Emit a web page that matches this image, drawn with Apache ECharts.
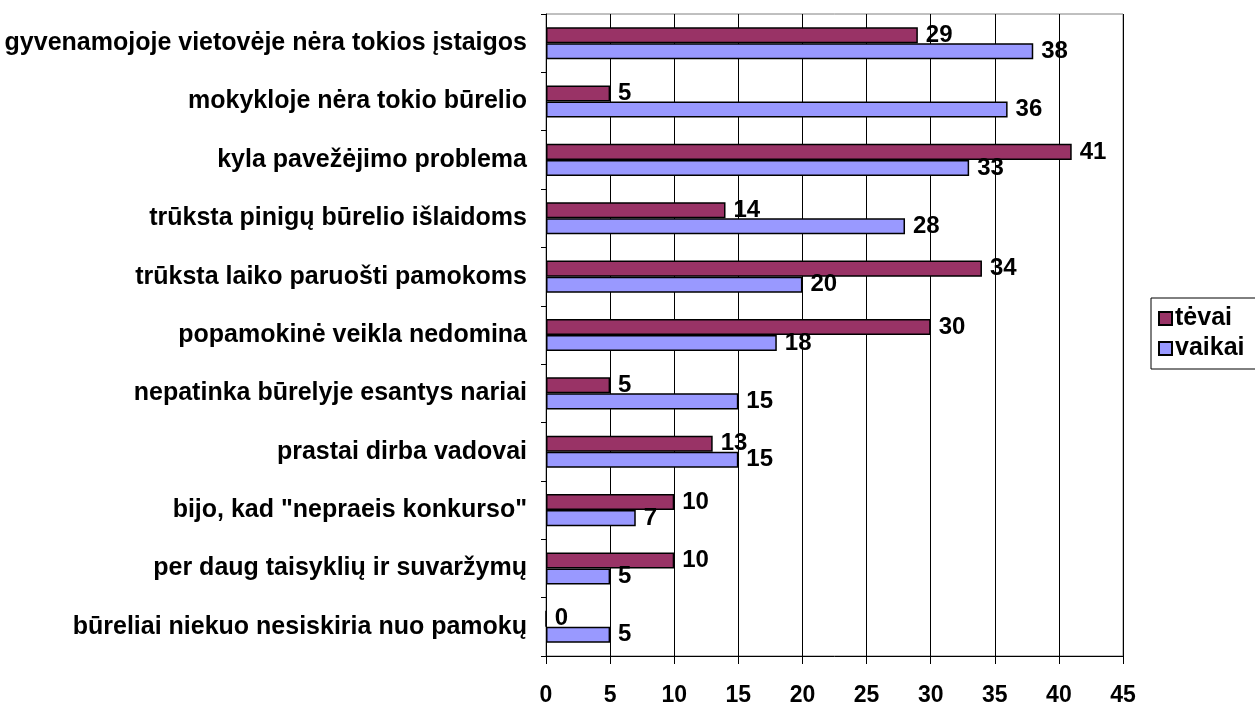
<!DOCTYPE html>
<html lang="lt">
<head>
    <meta charset="UTF-8">
    <title>Priežastys</title>
    <style>
        html, body { margin: 0; padding: 0; background: #fff; }
        #main { width: 1255px; height: 709px; }
    </style>
</head>
<body>
    <div id="main"></div>
    <script src="https://cdn.jsdelivr.net/npm/echarts@6/dist/echarts.min.js"></script>
    <script>
        // kategorijos is virsaus i apacia
        var categories = [
            'gyvenamojoje vietovėje nėra tokios įstaigos',
            'mokykloje nėra tokio būrelio',
            'kyla pavežėjimo problema',
            'trūksta pinigų būrelio išlaidoms',
            'trūksta laiko paruošti pamokoms',
            'popamokinė veikla nedomina',
            'nepatinka būrelyje esantys nariai',
            'prastai dirba vadovai',
            'bijo, kad "nepraeis konkurso"',
            'per daug taisyklių ir suvaržymų',
            'būreliai niekuo nesiskiria nuo pamokų'
        ];
        var tevai = [29, 5, 41, 14, 34, 30, 5, 13, 10, 10, 0];
        var vaikai = [38, 36, 33, 28, 20, 18, 15, 15, 7, 5, 5];
        var xTicks = [0, 5, 10, 15, 20, 25, 30, 35, 40, 45];

        var font = 'Liberation Sans, Arial, sans-serif';
        var labelStyle = {
            show: true,
            position: 'right',
            distance: 8,
            color: '#000',
            fontFamily: font,
            fontWeight: 'bold',
            fontSize: 24
        };

        echarts.init(document.getElementById('main')).setOption({
            animation: false,
            backgroundColor: '#fff',
            grid: {
                left: 546,
                right: 132,
                top: 14,
                bottom: 53,
                show: true,
                borderColor: '#808080',
                borderWidth: 1
            },
            legend: {
                orient: 'vertical',
                left: 1151,
                top: 298,
                padding: [8, 40, 8, 7],
                itemGap: 5,
                itemWidth: 13,
                itemHeight: 13,
                borderColor: '#000',
                borderWidth: 1,
                icon: 'rect',
                textStyle: {
                    color: '#000',
                    fontFamily: font,
                    fontWeight: 'bold',
                    fontSize: 25,
                    padding: [0, 0, 0, -2]
                },
                data: ['tėvai', 'vaikai']
            },
            xAxis: {
                type: 'value',
                min: xTicks[0],
                max: xTicks[xTicks.length - 1],
                interval: 5,
                axisLine: { show: true, lineStyle: { color: '#000', width: 1 } },
                axisTick: { show: true, length: 8, lineStyle: { color: '#000' } },
                axisLabel: {
                    color: '#000',
                    fontFamily: font,
                    fontWeight: 'bold',
                    fontSize: 23,
                    margin: 28
                },
                splitLine: { show: true, lineStyle: { color: '#000', width: 1 } }
            },
            yAxis: {
                type: 'category',
                inverse: true,
                data: categories,
                axisLine: { show: true, lineStyle: { color: '#000' } },
                axisTick: { show: true, length: 5, lineStyle: { color: '#000' } },
                axisLabel: {
                    color: '#000',
                    fontFamily: font,
                    fontWeight: 'bold',
                    fontSize: 25,
                    margin: 19
                }
            },
            series: [
                {
                    name: 'tėvai',
                    type: 'bar',
                    data: tevai,
                    barGap: '0%',
                    barCategoryGap: '45%',
                    itemStyle: { color: '#993366', borderColor: '#000', borderWidth: 1.5 },
                    label: labelStyle
                },
                {
                    name: 'vaikai',
                    type: 'bar',
                    data: vaikai,
                    barGap: '0%',
                    barCategoryGap: '45%',
                    itemStyle: { color: '#9999FF', borderColor: '#000', borderWidth: 1.5 },
                    label: labelStyle
                }
            ]
        });
    </script>
</body>
</html>
